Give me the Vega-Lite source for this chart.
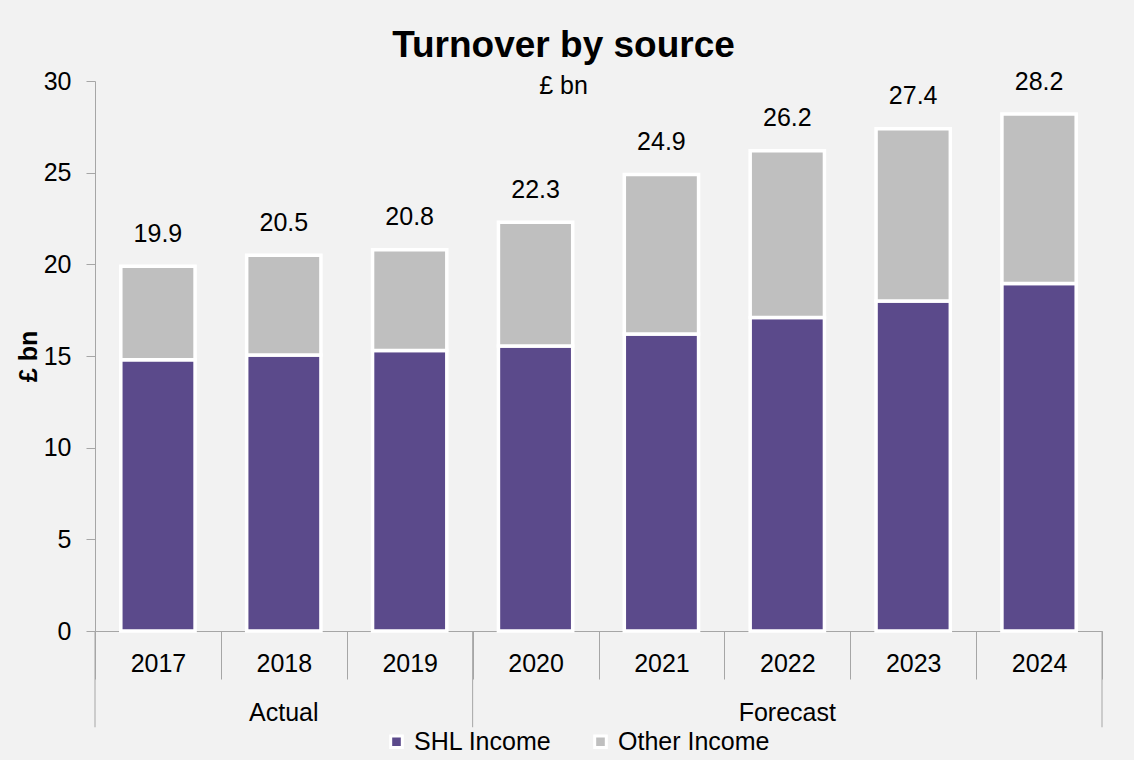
{
  "$schema": "https://vega.github.io/schema/vega-lite/v6.json",
  "autosize": "none",
  "padding": {"left": 95, "top": 81, "right": 32, "bottom": 129},
  "width": 1007,
  "height": 550,
  "background": "#F2F2F2",
  "config": {
    "font": "Liberation Sans",
    "view": {"stroke": null},
    "axis": {"grid": false, "domainColor": "#A6A6A6", "tickColor": "#A6A6A6", "labelColor": "#000000", "labelFont": "Liberation Sans", "labelFontSize": 25, "titleFont": "Liberation Sans"}
  },
  "title": {
    "text": "Turnover by source",
    "subtitle": "£ bn",
    "anchor": "middle",
    "dx": -35,
    "offset": -31,
    "fontSize": 37,
    "fontWeight": "bold",
    "color": "#000000",
    "subtitleFontSize": 25,
    "subtitleColor": "#000000",
    "subtitlePadding": 9,
    "font": "Liberation Sans",
    "subtitleFont": "Liberation Sans"
  },
  "data": {
    "values": [
      {"year": "2017", "period": "Actual", "source": "SHL Income", "value": 14.8},
      {"year": "2017", "period": "Actual", "source": "Other Income", "value": 5.1},
      {"year": "2018", "period": "Actual", "source": "SHL Income", "value": 15.05},
      {"year": "2018", "period": "Actual", "source": "Other Income", "value": 5.45},
      {"year": "2019", "period": "Actual", "source": "SHL Income", "value": 15.3},
      {"year": "2019", "period": "Actual", "source": "Other Income", "value": 5.5},
      {"year": "2020", "period": "Forecast", "source": "SHL Income", "value": 15.55},
      {"year": "2020", "period": "Forecast", "source": "Other Income", "value": 6.75},
      {"year": "2021", "period": "Forecast", "source": "SHL Income", "value": 16.2},
      {"year": "2021", "period": "Forecast", "source": "Other Income", "value": 8.7},
      {"year": "2022", "period": "Forecast", "source": "SHL Income", "value": 17.1},
      {"year": "2022", "period": "Forecast", "source": "Other Income", "value": 9.1},
      {"year": "2023", "period": "Forecast", "source": "SHL Income", "value": 18.0},
      {"year": "2023", "period": "Forecast", "source": "Other Income", "value": 9.4},
      {"year": "2024", "period": "Forecast", "source": "SHL Income", "value": 18.95},
      {"year": "2024", "period": "Forecast", "source": "Other Income", "value": 9.25}
    ]
  },
  "resolve": {"axis": {"x": "independent"}},
  "layer": [
    {
      "mark": {"type": "bar", "width": {"band": 0.59}, "stroke": "#FFFFFF", "strokeWidth": 3.5},
      "encoding": {
        "x": {
          "field": "year", "type": "nominal", "sort": null,
          "scale": {"paddingInner": 0, "paddingOuter": 0},
          "axis": {"orient": "bottom", "title": null, "labelAngle": 0, "tickBand": "extent", "tickSize": 48, "labelPadding": -28, "domainColor": "#A6A6A6"}
        },
        "y": {
          "aggregate": "sum", "field": "value", "type": "quantitative", "stack": "zero",
          "scale": {"domain": [0, 30], "nice": false, "zero": true},
          "axis": {"title": "£ bn", "titleFontSize": 25, "titleFontWeight": "bold", "titleColor": "#000000", "titlePadding": 2, "values": [0, 5, 10, 15, 20, 25, 30], "tickSize": 9, "labelPadding": 15}
        },
        "color": {
          "field": "source", "type": "nominal",
          "scale": {"domain": ["SHL Income", "Other Income"], "range": ["#5B4A8B", "#BFBFBF"]},
          "legend": {"title": null, "orient": "none", "legendX": 289, "legendY": 648, "direction": "horizontal", "labelFontSize": 25, "labelColor": "#000000", "labelFont": "Liberation Sans", "symbolType": "square", "symbolSize": 135, "symbolStrokeColor": "#FFFFFF", "symbolStrokeWidth": 3, "symbolOpacity": 1, "columnPadding": 36, "labelOffset": 5}
        },
        "order": {"field": "source", "sort": "descending"}
      }
    },
    {
      "mark": {"type": "text", "fontSize": 25, "baseline": "alphabetic", "dy": -24.5, "color": "#000000"},
      "encoding": {
        "x": {
          "field": "year", "type": "nominal", "sort": null,
          "axis": {"orient": "bottom", "title": null, "labelAngle": 0, "values": ["2018", "2022"], "labelExpr": "datum.value == '2018' ? 'Actual' : 'Forecast'", "ticks": false, "tickSize": 0, "domain": false, "labelPadding": 69}
        },
        "y": {"aggregate": "sum", "field": "value", "type": "quantitative", "title": "£ bn"},
        "text": {"aggregate": "sum", "field": "value", "type": "quantitative", "format": ".1f"}
      }
    },
    {
      "data": {"values": [{"year": "2017"}, {"year": "2020"}]},
      "mark": {"type": "rule", "color": "#A6A6A6", "strokeWidth": 1, "clip": false},
      "encoding": {
        "x": {"field": "year", "type": "nominal", "bandPosition": 0, "axis": null},
        "y": {"datum": 0},
        "y2": {"datum": -5.25}
      }
    },
    {
      "data": {"values": [{"year": "2024"}]},
      "mark": {"type": "rule", "color": "#A6A6A6", "strokeWidth": 1, "clip": false},
      "encoding": {
        "x": {"field": "year", "type": "nominal", "bandPosition": 1, "axis": null},
        "y": {"datum": 0},
        "y2": {"datum": -5.25}
      }
    }
  ]
}
